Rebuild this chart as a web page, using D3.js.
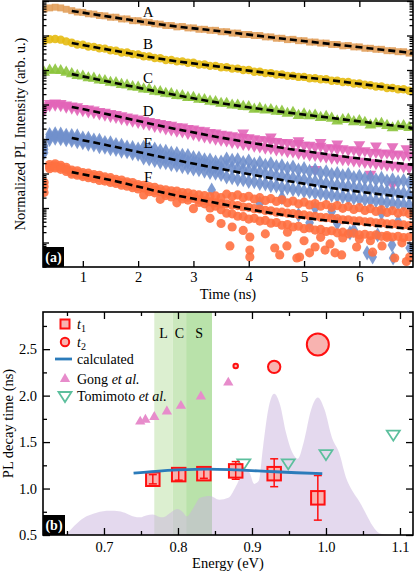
<!DOCTYPE html>
<html>
<head>
<meta charset="utf-8">
<script src="https://cdn.jsdelivr.net/npm/d3@7"></script>
<style>
  body { margin: 0; background: #fff; }
  svg { display: block; font-family: "Liberation Serif", "Times New Roman", serif; }
</style>
</head>
<body>
<div id="chart"></div>
<script>
// ---------- panel (a): decay traces, log10 of normalized intensity (offset per sample) ----------
const times = [0.3,0.4,0.5,0.6,0.7,0.8,0.9,1.0,1.1,1.2,1.3,1.4,1.5,1.6,1.7,1.8,1.9,2.0,2.1,2.2,2.3,2.4,2.5,2.6,2.7,2.8,2.9,3.0,3.1,3.2,3.3,3.4,3.5,3.6,3.7,3.8,3.9,4.0,4.1,4.2,4.3,4.4,4.5,4.6,4.7,4.8,4.9,5.0,5.1,5.2,5.3,5.4,5.5,5.6,5.7,5.8,5.9,6.0,6.1,6.2,6.3,6.4,6.5,6.6,6.7,6.8,6.9];

const seriesA = [6.77,6.80,6.82,6.80,6.76,6.72,6.68,6.67,6.63,6.62,6.58,6.57,6.53,6.53,6.48,6.48,6.43,6.43,6.39,6.38,6.34,6.33,6.29,6.29,6.25,6.26,6.22,6.22,6.18,6.18,6.15,6.15,6.11,6.11,6.07,6.07,6.03,6.03,6.00,6.00,5.96,5.96,5.92,5.92,5.88,5.89,5.85,5.85,5.81,5.81,5.78,5.78,5.74,5.74,5.70,5.71,5.67,5.67,5.63,5.63,5.60,5.60,5.56,5.56,5.53,5.53,5.49];
const seriesB = [5.84,5.89,5.90,5.88,5.83,5.79,5.74,5.73,5.68,5.67,5.63,5.62,5.57,5.56,5.51,5.51,5.46,5.45,5.40,5.39,5.35,5.34,5.29,5.29,5.25,5.25,5.21,5.21,5.16,5.16,5.12,5.12,5.08,5.08,5.04,5.04,5.00,5.00,4.95,4.95,4.91,4.91,4.87,4.87,4.83,4.83,4.80,4.80,4.76,4.76,4.73,4.73,4.69,4.69,4.65,4.65,4.61,4.61,4.57,4.56,4.52,4.52,4.48,4.48,4.44,4.44,4.40];
const seriesC = [4.93,4.99,5.00,4.98,4.93,4.89,4.84,4.82,4.77,4.76,4.71,4.69,4.64,4.63,4.58,4.56,4.51,4.50,4.45,4.44,4.38,4.37,4.32,4.31,4.26,4.25,4.20,4.20,4.15,4.14,4.09,4.08,4.03,4.03,3.98,3.98,3.94,3.93,3.86,3.89,3.84,3.85,3.80,3.80,3.74,3.77,3.68,3.72,3.67,3.69,3.62,3.65,3.60,3.52,3.56,3.57,3.50,3.53,3.48,3.40,3.44,3.45,3.39,3.32,3.37,3.38,3.33];
const seriesDHi = [3.93,4.03,4.05,4.03,3.99,3.96,3.94,3.89,3.87,3.84,3.80,3.78,3.74,3.71,3.68,3.64,3.61,3.58,3.55,3.51,3.48,3.45,3.42,3.40,3.36,3.35,3.31,3.29,3.26,3.24,3.19,3.18,3.14,3.12,3.10,3.07,3.05,3.04,3.01,2.98,2.98,2.94,2.93,2.90,2.90,2.86,2.87,2.82,2.82,2.78,2.79,2.74,2.75,2.71,2.72,2.68,2.69,2.64,2.66,2.61,2.62,2.58,2.60,2.55,2.57,2.53,2.54];
const seriesDLo = [3.84,3.97,3.99,3.97,3.93,3.90,3.86,3.83,3.79,3.77,3.73,3.70,3.66,3.63,3.59,3.56,3.52,3.49,3.45,3.42,3.37,3.35,3.30,3.27,3.23,3.21,3.17,3.14,3.10,3.07,3.04,3.00,2.97,2.95,2.91,2.89,2.85,2.84,2.80,2.78,2.74,2.73,2.69,2.68,2.64,2.63,2.59,2.58,2.54,2.53,2.50,2.48,2.45,2.44,2.41,2.40,2.37,2.36,2.33,2.32,2.29,2.28,2.25,2.24,2.21,2.20,2.17];
const seriesEHi = [2.80,3.13,3.15,3.14,3.11,3.10,3.09,3.03,3.02,2.97,2.96,2.90,2.89,2.84,2.82,2.77,2.75,2.71,2.76,2.72,2.71,2.66,2.64,2.59,2.58,2.53,2.52,2.46,2.45,2.40,2.39,2.33,2.33,2.42,2.38,2.40,2.32,2.36,2.27,2.31,2.24,2.28,2.20,2.22,2.15,2.19,2.10,2.14,2.06,2.10,2.01,2.05,1.97,2.00,1.93,1.97,1.88,1.92,1.85,1.89,1.82,1.86,1.78,1.82,1.76,1.79,1.73];
const seriesEMid = [2.70,3.06,3.09,3.07,3.04,3.02,3.00,2.95,2.93,2.89,2.88,2.82,2.81,2.76,2.74,2.69,2.67,2.62,2.61,2.58,2.53,2.51,2.46,2.45,2.40,2.39,2.33,2.32,2.27,2.26,2.20,2.19,2.15,2.21,2.16,2.15,2.10,2.09,2.05,2.04,1.99,1.98,1.93,1.92,1.88,1.87,1.83,1.82,1.77,1.77,1.72,1.72,1.67,1.67,1.63,1.63,1.59,1.59,1.55,1.55,1.51,1.51,1.47,1.47,1.43,1.43,1.39];
const seriesELo = [2.60,2.99,3.02,3.01,2.98,2.96,2.92,2.89,2.85,2.83,2.78,2.76,2.72,2.70,2.65,2.63,2.58,2.56,2.45,2.42,2.38,2.33,2.31,2.26,2.24,2.20,2.17,2.13,2.11,2.07,2.03,2.01,1.97,1.90,1.88,1.83,1.82,1.77,1.76,1.71,1.70,1.65,1.64,1.59,1.58,1.54,1.53,1.49,1.47,1.44,1.42,1.39,1.37,1.34,1.33,1.30,1.29,1.26,1.25,1.22,1.21,1.18,1.17,1.14,1.13,1.10,1.09];
const seriesFHi = [1.75,2.26,2.28,2.24,2.18,2.10,2.08,2.03,2.01,1.97,1.95,1.90,1.88,1.83,1.81,1.76,1.74,1.68,1.66,1.62,1.60,1.55,1.53,1.50,1.49,1.45,1.44,1.40,1.38,1.36,1.33,1.35,1.30,1.40,1.33,1.38,1.30,1.34,1.26,1.30,1.22,1.27,1.19,1.24,1.15,1.20,1.12,1.17,1.09,1.13,1.05,1.10,1.02,1.07,0.99,1.04,0.96,1.01,0.93,0.98,0.90,0.95,0.87,0.92,0.85,0.89,0.83];
const seriesFMid = [1.62,2.20,2.22,2.18,2.12,2.04,2.01,1.97,1.94,1.91,1.88,1.84,1.81,1.77,1.73,1.70,1.66,1.62,1.58,1.54,1.51,1.47,1.43,1.40,1.37,1.34,1.31,1.28,1.24,1.21,1.18,1.15,1.12,1.12,1.09,1.07,1.03,1.02,0.98,0.97,0.93,0.92,0.88,0.88,0.85,0.84,0.81,0.80,0.77,0.76,0.73,0.72,0.70,0.69,0.66,0.66,0.63,0.63,0.60,0.60,0.57,0.57,0.54,0.54,0.52,0.51,0.49];
const seriesFLo = [1.45,2.14,2.16,2.12,2.06,1.98,1.95,1.91,1.88,1.85,1.80,1.78,1.74,1.71,1.66,1.63,1.59,1.55,1.38,1.47,1.44,1.25,1.36,1.32,1.15,1.26,1.23,0.98,1.16,1.12,1.00,1.05,0.95,0.85,0.83,0.76,0.75,0.68,0.70,0.62,0.64,0.56,0.58,0.50,0.52,0.45,0.47,0.40,0.42,0.36,0.38,0.32,0.34,0.28,0.30,0.25,0.27,0.22,0.24,0.20,0.22,0.18,0.20,0.16,0.18,0.14,0.16];

// scattered single-shot points [time, log10 value]
const outliersD = [[3.9,3.18],[4.4,3.06],[4.9,2.95],[5.3,2.90],[5.6,2.86],[6.0,2.84],[6.3,2.80],[6.6,2.78],[6.85,2.72],[5.2,2.12],[6.2,1.98],[6.6,1.68]];
const outliersE = [[3.33,1.52],[4.2,1.14],[4.6,1.30],[4.9,0.80],[5.1,0.57],[5.2,1.00],[5.5,0.90],[5.6,0.55],[5.83,0.28],[5.9,0.36],[6.14,-0.30],[6.24,-0.42],[6.33,0.22],[6.4,0.85],[6.59,-0.07],[6.61,-0.45],[6.7,0.60],[6.91,-0.16]];
const outliersF = [[3.3,0.70],[3.5,0.55],[3.66,-0.10],[3.70,0.45],[3.9,0.35],[4.02,-0.22],[4.02,-0.42],[4.02,0.16],[4.3,0.25],[4.47,-0.16],[4.56,-0.36],[4.69,-0.10],[4.7,0.30],[4.87,-0.45],[4.92,-0.42],[5.0,0.05],[5.10,-0.30],[5.20,-0.13],[5.3,0.15],[5.38,-0.22],[5.47,-0.04],[5.56,-0.30],[5.68,-0.36],[5.70,0.13],[5.95,-0.13],[6.0,0.10],[6.2,0.05],[6.24,-0.28],[6.41,-0.10],[6.5,0.15],[6.64,-0.45],[6.77,-0.01],[6.85,-0.55],[6.91,-0.42]];

// fitted decays
const fitTimes = [0.8,1.5,2.5,3.5,4.5,5.5,6.97];
const fitA = [6.71,6.54,6.30,6.12,5.93,5.75,5.49];
const fitB = [5.78,5.58,5.30,5.09,4.88,4.70,4.39];
const fitC = [4.88,4.65,4.33,4.04,3.81,3.61,3.32];
const fitD = [3.93,3.70,3.35,3.04,2.77,2.54,2.25];
const fitE = [3.03,2.80,2.45,2.13,1.84,1.58,1.29];
const fitF = [2.04,1.81,1.43,1.12,0.83,0.62,0.39];

const sampleNames = ['A','B','C','D','E','F'];
const labelTime = 2.18;
const labelLevel = [6.54,5.61,4.62,3.67,2.74,1.75];
const timeTicks = [1,2,3,4,5,6];

// ---------- panel (b): decay time vs energy ----------
const energyT1 = [0.766,0.801,0.835,0.878,0.930,0.989];
const tau1 = [1.10,1.15,1.16,1.19,1.16,0.90];
const tau1Low = [1.05,1.09,1.11,1.10,1.02,0.66];
const tau1High = [1.15,1.20,1.21,1.29,1.32,1.14];

const energyT2 = [0.878,0.930,0.989];
const tau2 = [2.32,2.31,2.55];
const tau2Weight = [0.04,0.30,0.95];

const calcEnergy = [0.74,0.77,0.80,0.84,0.88,0.92,0.96,0.995];
const calcTau = [1.165,1.185,1.20,1.21,1.20,1.185,1.17,1.16];

const gongEnergy = [0.749,0.756,0.768,0.785,0.804,0.831,0.868];
const gongTau = [1.72,1.74,1.77,1.83,1.89,1.99,2.14];

const tomiEnergy = [0.889,0.949,1.000,1.091];
const tomiTau = [1.27,1.27,1.37,1.58];

const specEnergy = [0.640,0.650,0.660,0.672,0.690,0.708,0.720,0.731,0.740,0.749,0.757,0.766,0.773,0.780,0.790,0.799,0.806,0.812,0.820,0.830,0.843,0.856,0.868,0.880,0.890,0.896,0.903,0.909,0.915,0.922,0.930,0.938,0.946,0.955,0.962,0.970,0.980,0.989,0.998,1.008,1.018,1.027,1.036,1.045,1.054,1.063,1.072,1.085];
const specLevel = [0.50,0.52,0.60,0.68,0.74,0.76,0.755,0.73,0.70,0.69,0.71,0.72,0.70,0.69,0.74,0.78,0.75,0.70,0.78,0.90,0.92,0.88,0.90,1.05,1.20,1.18,1.05,1.08,1.45,1.85,2.02,1.90,1.60,1.38,1.32,1.50,1.85,1.98,1.85,1.55,1.38,1.12,0.97,0.86,0.73,0.60,0.52,0.50];

const bandNames = ['L','C','S'];
const bandFrom = [0.768,0.793,0.811];
const bandTo = [0.793,0.811,0.846];
const bandLabelLevel = 2.62;

const energyTicks = [0.7,0.8,0.9,1.0,1.1];
const energyMinor = [0.65,0.75,0.85,0.95,1.05];
const tauTicks = [0.5,1.0,1.5,2.0,2.5];
const tauMinor = [0.75,1.25,1.75,2.25,2.75];

// ---------- setup ----------
const width = 416, height = 572;
const svg = d3.select('#chart').append('svg')
  .attr('width', width)
  .attr('height', height);

const pa = {left: 43, right: 413, top: 1, bottom: 267};
const pb = {left: 43, right: 413, top: 312, bottom: 535};

const xA = d3.scaleLinear().domain([0.28, 6.97]).range([pa.left, pa.right]);
const yA = d3.scaleLog().domain([0.195, 1e7]).range([pa.bottom, pa.top]);
const yLog = v => yA(Math.pow(10, v));

const xB = d3.scaleLinear().domain([0.6176, 1.1176]).range([pb.left, pb.right]);
const yB = d3.scaleLinear().domain([0.5, 2.9]).range([pb.bottom, pb.top]);

function styleAxis(g) {
  g.select('.domain').remove();
  g.attr('font-family', null).attr('font-size', 14.5);
  g.selectAll('line').attr('stroke', '#000').attr('stroke-width', 1.3);
  g.selectAll('text').attr('fill', '#000');
}

// ---------- panel (a) ----------
svg.append('clipPath').attr('id', 'clipA')
  .append('rect')
  .attr('x', pa.left).attr('y', pa.top)
  .attr('width', pa.right - pa.left).attr('height', pa.bottom - pa.top);

const samples = [
  {arrays: [seriesA], extra: [], fit: fitA, color: '#e19e5a', symbol: d3.symbolSquare, size: 48},
  {arrays: [seriesB], extra: [], fit: fitB, color: '#e6bb12', symbol: d3.symbolCircle, size: 56},
  {arrays: [seriesC], extra: [], fit: fitC, color: '#8cc43c', symbol: d3.symbolTriangle, size: 60},
  {arrays: [seriesDHi, seriesDLo], extra: outliersD, fit: fitD, color: '#e265b8', symbol: d3.symbolTriangle, size: 60, flip: true},
  {arrays: [seriesEHi, seriesEMid, seriesELo], extra: outliersE, fit: fitE, color: '#7190cc', symbol: d3.symbolDiamond, size: 66},
  {arrays: [seriesFHi, seriesFMid, seriesFLo], extra: outliersF, fit: fitF, color: '#ff7040', symbol: d3.symbolCircle, size: 66}
];

const traces = svg.append('g').attr('clip-path', 'url(#clipA)');

samples.forEach(function (s) {
  const pts = [];
  s.arrays.forEach(function (arr) {
    arr.forEach(function (v, i) { pts.push({t: times[i], v: v}); });
  });
  s.extra.forEach(function (p) { pts.push({t: p[0], v: p[1]}); });

  traces.append('g')
    .selectAll('path')
    .data(pts)
    .enter()
    .append('path')
    .attr('d', d3.symbol().type(s.symbol).size(s.size))
    .attr('transform', function (d) {
      return 'translate(' + xA(d.t) + ',' + yLog(d.v) + ')' + (s.flip ? ' rotate(180)' : '');
    })
    .attr('fill', s.color)
    .attr('fill-opacity', 0.9);
});

const fitLine = d3.line()
  .x(function (d) { return xA(d[0]); })
  .y(function (d) { return yLog(d[1]); })
  .curve(d3.curveMonotoneX);

samples.forEach(function (s) {
  traces.append('path')
    .datum(fitTimes.map(function (t, i) { return [t, s.fit[i]]; }))
    .attr('d', fitLine)
    .attr('fill', 'none')
    .attr('stroke', '#000')
    .attr('stroke-width', 2.6)
    .attr('stroke-dasharray', '7,4');
});

svg.append('g')
  .selectAll('text')
  .data(sampleNames)
  .enter()
  .append('text')
  .attr('x', xA(labelTime))
  .attr('y', function (d, i) { return yLog(labelLevel[i]); })
  .attr('text-anchor', 'middle')
  .attr('font-size', 15)
  .text(function (d) { return d; });

// log ticks
const decades = [1, 10, 100, 1e3, 1e4, 1e5, 1e6, 1e7];
const minorLog = [];
[0.1, 1, 10, 100, 1e3, 1e4, 1e5, 1e6].forEach(function (d) {
  for (let m = 2; m <= 9; m++) {
    const v = m * d;
    if (v >= 0.195 && v < 1e7) minorLog.push(v);
  }
});

svg.append('g').attr('transform', 'translate(0,' + pa.bottom + ')')
  .call(d3.axisBottom(xA).tickValues(timeTicks).tickSize(-6).tickPadding(5).tickFormat(d3.format('d')))
  .call(styleAxis);
svg.append('g').attr('transform', 'translate(0,' + pa.top + ')')
  .call(d3.axisTop(xA).tickValues(timeTicks).tickSize(-6).tickFormat(''))
  .call(styleAxis);
[[d3.axisLeft, pa.left], [d3.axisRight, pa.right]].forEach(function (a) {
  svg.append('g').attr('transform', 'translate(' + a[1] + ',0)')
    .call(a[0](yA).tickValues(decades).tickSize(-6).tickFormat(''))
    .call(styleAxis);
  svg.append('g').attr('transform', 'translate(' + a[1] + ',0)')
    .call(a[0](yA).tickValues(minorLog).tickSize(-3.5).tickFormat(''))
    .call(styleAxis);
});

svg.append('rect')
  .attr('x', pa.left).attr('y', pa.top)
  .attr('width', pa.right - pa.left).attr('height', pa.bottom - pa.top)
  .attr('fill', 'none').attr('stroke', '#000').attr('stroke-width', 1.6);

svg.append('text')
  .attr('transform', 'translate(25,' + (pa.top + pa.bottom) / 2 + ') rotate(-90)')
  .attr('text-anchor', 'middle')
  .attr('font-size', 14.5)
  .text('Normalized PL Intensity (arb. u.)');

svg.append('text')
  .attr('x', (pa.left + pa.right) / 2)
  .attr('y', 299)
  .attr('text-anchor', 'middle')
  .attr('font-size', 14.5)
  .text('Time (ns)');

svg.append('rect').attr('x', pa.left).attr('y', pa.bottom - 20).attr('width', 21).attr('height', 20).attr('fill', '#000');
svg.append('text').attr('x', pa.left + 10.5).attr('y', pa.bottom - 5)
  .attr('text-anchor', 'middle').attr('font-size', 14).attr('font-weight', 'bold').attr('fill', '#fff')
  .text('(a)');

// ---------- panel (b) ----------
const bandColors = ['#dcefd0', '#cbe8bd', '#b9e2aa'];

svg.append('g')
  .selectAll('rect')
  .data(bandNames)
  .enter()
  .append('rect')
  .attr('x', function (d, i) { return xB(bandFrom[i]); })
  .attr('y', pb.top)
  .attr('width', function (d, i) { return xB(bandTo[i]) - xB(bandFrom[i]); })
  .attr('height', pb.bottom - pb.top)
  .attr('fill', function (d, i) { return bandColors[i]; });

svg.append('path')
  .datum(specEnergy.map(function (e, i) { return [e, specLevel[i]]; }))
  .attr('d', d3.area()
    .x(function (d) { return xB(d[0]); })
    .y0(yB(0.5))
    .y1(function (d) { return yB(d[1]); })
    .curve(d3.curveMonotoneX))
  .attr('fill', '#c9b3dd')
  .attr('fill-opacity', 0.5);

svg.append('g')
  .selectAll('text')
  .data(bandNames)
  .enter()
  .append('text')
  .attr('x', function (d, i) { return xB((bandFrom[i] + bandTo[i]) / 2); })
  .attr('y', yB(bandLabelLevel))
  .attr('text-anchor', 'middle')
  .attr('font-size', 14)
  .text(function (d) { return d; });

// literature
const tomiPath = 'M-6.5,-4L6.5,-4L0,6Z';
svg.append('g')
  .selectAll('path')
  .data(gongEnergy)
  .enter()
  .append('path')
  .attr('d', d3.symbol().type(d3.symbolTriangle).size(46))
  .attr('transform', function (d, i) { return 'translate(' + xB(d) + ',' + yB(gongTau[i]) + ')'; })
  .attr('fill', '#e78ccb');

svg.append('g')
  .selectAll('path')
  .data(tomiEnergy)
  .enter()
  .append('path')
  .attr('d', tomiPath)
  .attr('transform', function (d, i) { return 'translate(' + xB(d) + ',' + yB(tomiTau[i]) + ')'; })
  .attr('fill', 'none')
  .attr('stroke', '#5cbf9d')
  .attr('stroke-width', 1.8);

// t1 squares with error bars
const sq = 13.5;
svg.append('g')
  .selectAll('rect')
  .data(energyT1)
  .enter()
  .append('rect')
  .attr('x', function (d) { return xB(d) - sq / 2; })
  .attr('y', function (d, i) { return yB(tau1[i]) - sq / 2; })
  .attr('width', sq).attr('height', sq)
  .attr('fill', '#f8b3b0')
  .attr('stroke', '#ff1010')
  .attr('stroke-width', 2);

const errG = svg.append('g').attr('stroke', '#ff1010').attr('stroke-width', 1.5);
energyT1.forEach(function (e, i) {
  const x = xB(e);
  errG.append('line').attr('x1', x).attr('x2', x).attr('y1', yB(tau1Low[i])).attr('y2', yB(tau1High[i]));
  errG.append('line').attr('x1', x - 4).attr('x2', x + 4).attr('y1', yB(tau1Low[i])).attr('y2', yB(tau1Low[i]));
  errG.append('line').attr('x1', x - 4).attr('x2', x + 4).attr('y1', yB(tau1High[i])).attr('y2', yB(tau1High[i]));
});

// calculated
svg.append('path')
  .datum(calcEnergy.map(function (e, i) { return [e, calcTau[i]]; }))
  .attr('d', d3.line()
    .x(function (d) { return xB(d[0]); })
    .y(function (d) { return yB(d[1]); })
    .curve(d3.curveMonotoneX))
  .attr('fill', 'none')
  .attr('stroke', '#2b7bba')
  .attr('stroke-width', 2.8);

// t2 circles
const rScale = d3.scaleSqrt().domain([0, 1]).range([0, 11.3]);
svg.append('g')
  .selectAll('circle')
  .data(energyT2)
  .enter()
  .append('circle')
  .attr('cx', function (d) { return xB(d); })
  .attr('cy', function (d, i) { return yB(tau2[i]); })
  .attr('r', function (d, i) { return rScale(tau2Weight[i]); })
  .attr('fill', '#f8b3b0')
  .attr('stroke', '#ff1010')
  .attr('stroke-width', 2);

// axes
svg.append('g').attr('transform', 'translate(0,' + pb.bottom + ')')
  .call(d3.axisBottom(xB).tickValues(energyTicks).tickSize(-7).tickPadding(7).tickFormat(d3.format('.1f')))
  .call(styleAxis);
svg.append('g').attr('transform', 'translate(0,' + pb.bottom + ')')
  .call(d3.axisBottom(xB).tickValues(energyMinor).tickSize(-4).tickFormat(''))
  .call(styleAxis);
svg.append('g').attr('transform', 'translate(0,' + pb.top + ')')
  .call(d3.axisTop(xB).tickValues(energyTicks).tickSize(-7).tickFormat(''))
  .call(styleAxis);
svg.append('g').attr('transform', 'translate(0,' + pb.top + ')')
  .call(d3.axisTop(xB).tickValues(energyMinor).tickSize(-4).tickFormat(''))
  .call(styleAxis);
svg.append('g').attr('transform', 'translate(' + pb.left + ',0)')
  .call(d3.axisLeft(yB).tickValues(tauTicks).tickSize(-7).tickPadding(6).tickFormat(d3.format('.1f')))
  .call(styleAxis);
svg.append('g').attr('transform', 'translate(' + pb.left + ',0)')
  .call(d3.axisLeft(yB).tickValues(tauMinor).tickSize(-4).tickFormat(''))
  .call(styleAxis);
svg.append('g').attr('transform', 'translate(' + pb.right + ',0)')
  .call(d3.axisRight(yB).tickValues(tauTicks).tickSize(-7).tickFormat(''))
  .call(styleAxis);
svg.append('g').attr('transform', 'translate(' + pb.right + ',0)')
  .call(d3.axisRight(yB).tickValues(tauMinor).tickSize(-4).tickFormat(''))
  .call(styleAxis);

svg.append('rect')
  .attr('x', pb.left).attr('y', pb.top)
  .attr('width', pb.right - pb.left).attr('height', pb.bottom - pb.top)
  .attr('fill', 'none').attr('stroke', '#000').attr('stroke-width', 1.6);

svg.append('text')
  .attr('transform', 'translate(12.5,' + (pb.top + pb.bottom) / 2 + ') rotate(-90)')
  .attr('text-anchor', 'middle')
  .attr('font-size', 14.5)
  .text('PL decay time (ns)');

svg.append('text')
  .attr('x', (pb.left + pb.right) / 2)
  .attr('y', 568)
  .attr('text-anchor', 'middle')
  .attr('font-size', 14.5)
  .text('Energy (eV)');

svg.append('rect').attr('x', pb.left).attr('y', pb.bottom - 20).attr('width', 22).attr('height', 20).attr('fill', '#000');
svg.append('text').attr('x', pb.left + 11).attr('y', pb.bottom - 5)
  .attr('text-anchor', 'middle').attr('font-size', 14).attr('font-weight', 'bold').attr('fill', '#fff')
  .text('(b)');

// legend
const lg = svg.append('g').attr('font-size', 14);
const lx = 65, tx = 77;
lg.append('rect').attr('x', lx - 4.5).attr('y', 324 - 4.5).attr('width', 9).attr('height', 9)
  .attr('fill', '#f8b3b0').attr('stroke', '#ff1010').attr('stroke-width', 2);
lg.append('circle').attr('cx', lx).attr('cy', 342).attr('r', 4.2)
  .attr('fill', '#f8b3b0').attr('stroke', '#ff1010').attr('stroke-width', 2);
lg.append('line').attr('x1', 55).attr('x2', 72).attr('y1', 359).attr('y2', 359)
  .attr('stroke', '#2b7bba').attr('stroke-width', 2.8);
lg.append('path').attr('d', d3.symbol().type(d3.symbolTriangle).size(46))
  .attr('transform', 'translate(' + lx + ',379)').attr('fill', '#e78ccb');
lg.append('path').attr('d', tomiPath)
  .attr('transform', 'translate(' + lx + ',396)')
  .attr('fill', 'none').attr('stroke', '#5cbf9d').attr('stroke-width', 1.8);

function subLabel(y, sub) {
  const t = lg.append('text').attr('x', tx).attr('y', y);
  t.append('tspan').attr('font-style', 'italic').text('t');
  t.append('tspan').attr('font-size', 10).attr('dy', 3).text(sub);
}
subLabel(329, '1');
subLabel(347, '2');
lg.append('text').attr('x', tx).attr('y', 364).text('calculated');
const g1 = lg.append('text').attr('x', tx).attr('y', 384);
g1.append('tspan').text('Gong ');
g1.append('tspan').attr('font-style', 'italic').text('et al.');
const g2 = lg.append('text').attr('x', tx).attr('y', 401);
g2.append('tspan').text('Tomimoto ');
g2.append('tspan').attr('font-style', 'italic').text('et al.');
</script>
</body>
</html>
